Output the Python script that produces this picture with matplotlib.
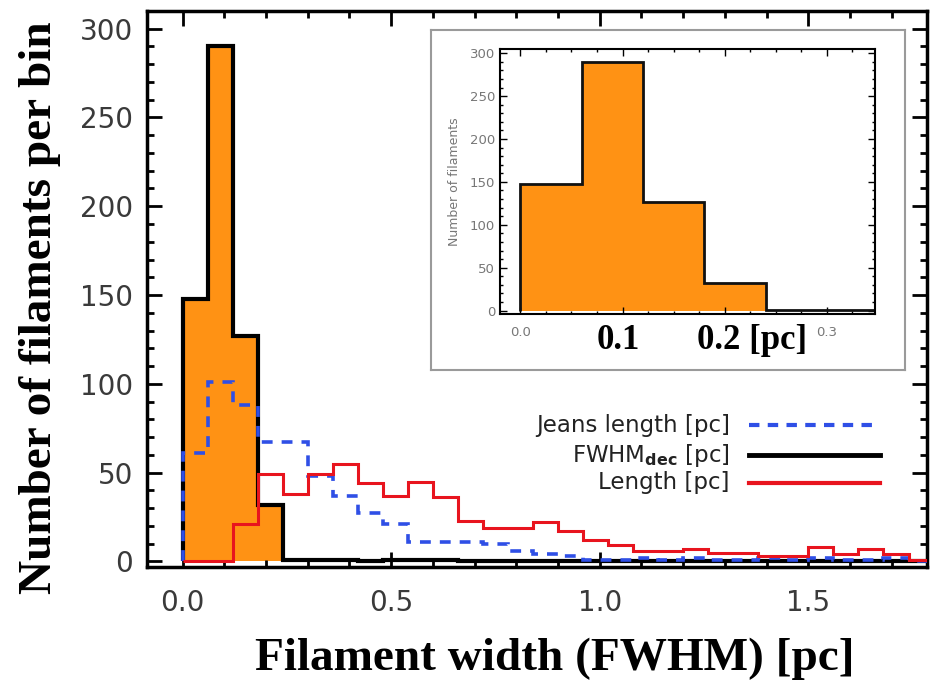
import numpy as np
import matplotlib.pyplot as plt
from matplotlib.ticker import MultipleLocator

# histogram bins (pc)
bin_width = 0.06
n_bins = 30

fwhm_counts = [148, 290, 127, 32, 1, 1, 1, 0, 1, 1, 1, 0, 0, 0, 0,
               0, 0, 0, 0, 0, 0, 0, 0, 0, 0, 0, 0, 0, 0, 0]
jeans_counts = [61, 101, 88, 67, 67, 48, 37, 27, 21, 11, 11, 11, 10, 6, 4,
                3, 1, 1, 2, 1, 2, 1, 1, 2, 1, 2, 1, 1, 2, 0]
length_counts = [0, 0, 21, 49, 38, 49, 55, 44, 37, 45, 36, 23, 19, 19, 22,
                 17, 12, 9, 6, 6, 7, 5, 5, 3, 3, 8, 4, 7, 4, 1]

legend_labels = ['Jeans length [pc]', r'FWHM$_{\mathbf{dec}}$ [pc]', 'Length [pc]']

edges = np.arange(n_bins + 1) * bin_width

orange = '#ff9214'
blue = '#2f4fe6'
red = '#e8141e'
tick_col = '#3a3a3a'

fig = plt.figure(figsize=(9.31, 6.82), dpi=100)
ax = fig.add_axes([0.158, 0.169, 0.838, 0.815])

ax.stairs(fwhm_counts, edges, fill=True, color=orange, zorder=1)
ax.stairs(fwhm_counts, edges, color='black', lw=3, zorder=2)
ax.stairs(jeans_counts, edges, color=blue, lw=2.6, ls=(0, (3, 2.5)), zorder=3)
ax.stairs(length_counts, edges, color=red, lw=2.2, zorder=4)

ax.set_xlim(-0.085, 1.785)
ax.set_ylim(-3, 310)
ax.xaxis.set_minor_locator(MultipleLocator(0.1))
ax.yaxis.set_major_locator(MultipleLocator(50))
ax.yaxis.set_minor_locator(MultipleLocator(10))
ax.set_xticks([0, 0.5, 1.0, 1.5])
ax.set_xticklabels(['0.0', '0.5', '1.0', '1.5'])
ax.tick_params(which='both', direction='in', top=True, right=True,
               width=2, colors='black', labelcolor=tick_col, labelsize=20)
ax.tick_params(which='major', length=11)
ax.tick_params(which='minor', length=5)
ax.tick_params(axis='x', pad=16)
ax.tick_params(axis='y', pad=10)
for s in ax.spines.values():
    s.set_linewidth(2.5)

# legend drawn IDL style: text right aligned, line on the right
leg_y = [0.255, 0.201, 0.151]
leg_styles = [dict(color=blue, lw=3, ls=(0, (2.5, 2))),
              dict(color='black', lw=3.5),
              dict(color=red, lw=3)]
for lab, yy, st in zip(legend_labels, leg_y, leg_styles):
    ax.text(0.747, yy, lab, transform=ax.transAxes, ha='right', va='center',
            fontsize=16.5, color='#222222')
    ax.plot([0.772, 0.94], [yy, yy], transform=ax.transAxes, **st)

fig.text(555 / 931, 1 - 670 / 682, 'Filament width (FWHM) [pc]',
         family='Liberation Serif', weight='bold', fontsize=34,
         ha='center', va='baseline')
fig.text(40 / 931, 1 - 308 / 682, 'Number of filaments per bin',
         family='Liberation Serif', weight='bold', fontsize=34,
         rotation=90, ha='center', va='center')

# inset frame
box = fig.add_axes([0.463, 0.4575, 0.509, 0.4985])
box.set_xticks([])
box.set_yticks([])
for s in box.spines.values():
    s.set_color('#9a9a9a')
    s.set_linewidth(1.5)

axin = fig.add_axes([0.537, 0.5396, 0.4028, 0.3886])
axin.stairs(fwhm_counts, edges, fill=True, color=orange, zorder=1)
axin.stairs(fwhm_counts, edges, color='#111111', lw=2, zorder=2)
axin.set_xlim(-0.02, 0.347)
axin.set_ylim(-4, 305)
axin.set_xticks([0, 0.1, 0.2, 0.3])
axin.set_xticklabels(['0.0', '', '', '0.3'])
axin.xaxis.set_minor_locator(MultipleLocator(0.025))
axin.yaxis.set_major_locator(MultipleLocator(50))
axin.yaxis.set_minor_locator(MultipleLocator(10))
axin.tick_params(which='both', direction='in', top=True, right=True,
                 width=1, labelsize=9.5, labelcolor='#777777')
axin.tick_params(which='major', length=5)
axin.tick_params(which='minor', length=2.5)
axin.tick_params(axis='x', pad=9)
for s in axin.spines.values():
    s.set_linewidth(1.5)
axin.set_ylabel('Number of filaments', fontsize=9, color='#777777', labelpad=6)

axin.text(0.096, -0.1, '0.1', transform=axin.get_xaxis_transform(),
          family='Liberation Serif', weight='bold', fontsize=25,
          ha='center', va='center')
axin.text(0.173, -0.1, '0.2 [pc]', transform=axin.get_xaxis_transform(),
          family='Liberation Serif', weight='bold', fontsize=25,
          ha='left', va='center')

fig.savefig('out.png', dpi=100)
